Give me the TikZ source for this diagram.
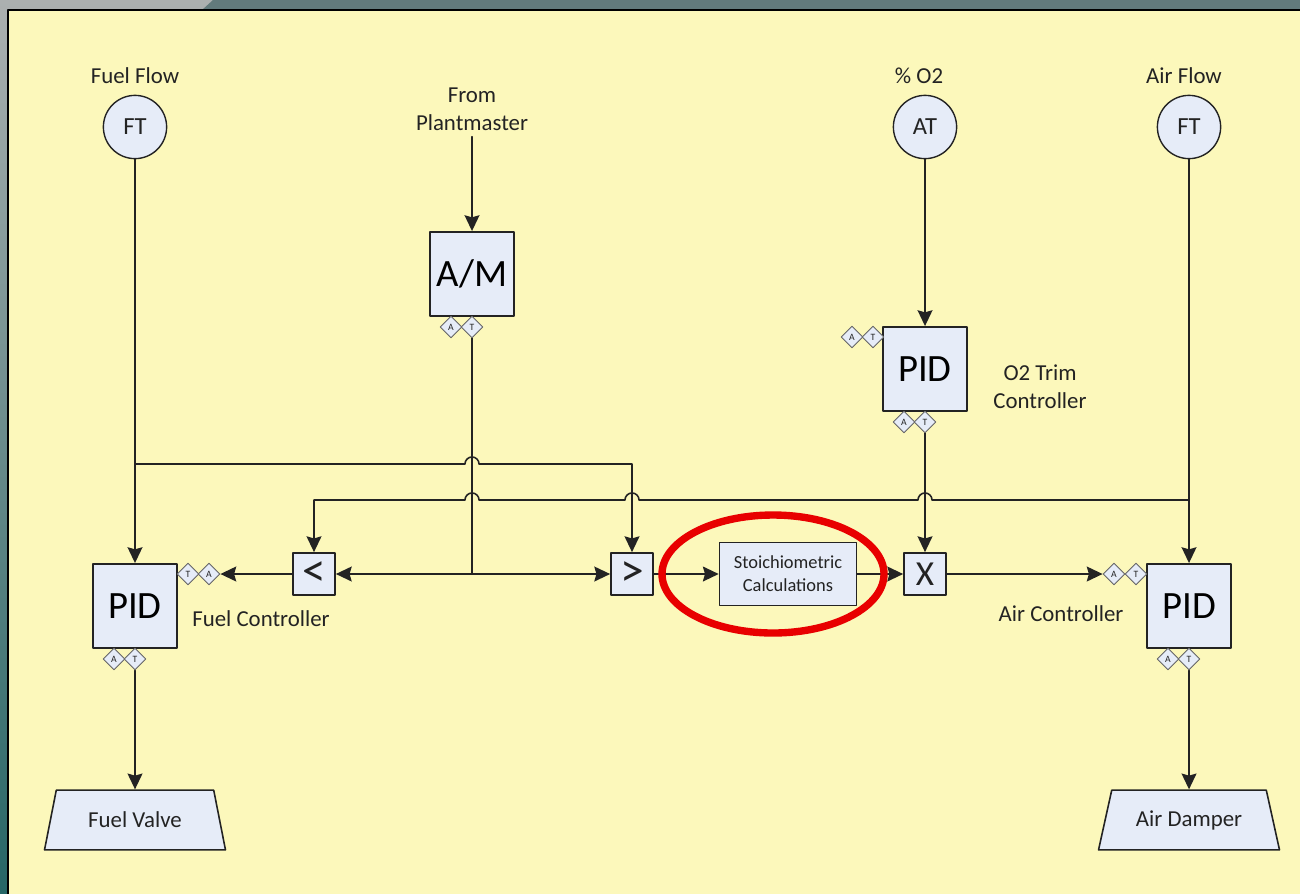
\documentclass[tikz,border=0pt]{standalone}
\usepackage{fontspec}
\setmainfont{Carlito}
\usetikzlibrary{shapes.geometric,arrows.meta}
\definecolor{panel}{RGB}{252,248,187}
\definecolor{boxfill}{RGB}{230,236,248}
\definecolor{ink}{RGB}{35,35,35}
\definecolor{slate}{RGB}{98,122,124}
\definecolor{hilite}{RGB}{232,0,0}

\begin{document}
\begin{tikzpicture}[x=0.02cm,y=-0.02cm,line cap=round,line join=round,
  wire/.style={line width=0.9pt,draw=ink},
  sig/.style={wire,-{Stealth[length=9pt,width=8.5pt,inset=1.2pt]}},
  lbl/.style={text=ink,align=center,font=\fontsize{13}{16}\selectfont},
  sensor/.style={circle,draw=ink,line width=0.8pt,fill=boxfill,minimum size=36pt,inner sep=0pt,text=ink,font=\fontsize{14}{14}\selectfont},
  ctrl/.style={draw=ink,line width=0.9pt,fill=boxfill,minimum size=48pt,inner sep=0pt,text=black,font=\fontsize{22}{22}\selectfont},
  sel/.style={draw=ink,line width=0.9pt,fill=boxfill,minimum size=24pt,inner sep=0pt,text=ink,font=\fontsize{20}{20}\selectfont},
  calcbox/.style={draw=ink,line width=0.9pt,fill=boxfill,minimum width=78pt,minimum height=36pt,inner sep=0pt,align=center,text=ink,font=\fontsize{10.5}{13}\selectfont},
  tag/.style={diamond,draw=ink!70,line width=0.5pt,fill=boxfill,minimum size=12.5pt,inner sep=0pt,text=ink,font=\fontsize{5.5}{5.5}\selectfont},
  valve/.style={trapezium,trapezium angle=67,trapezium stretches body,draw=ink,line width=0.9pt,fill=boxfill,minimum width=103pt,minimum height=34pt,text=ink,font=\fontsize{13}{13}\selectfont}]

\useasboundingbox (0,0) rectangle (1300,893);

% slide backdrop
\shade[top color={rgb,255:red,172;green,176;blue,176},bottom color={rgb,255:red,38;green,102;blue,102}] (0,0) rectangle (1300,893);
\fill[slate] (213,0) -- (1300,0) -- (1300,10) -- (202,10) -- cycle;
\draw[line width=1pt,fill=panel] (8,10) rectangle (1320,910);

% transmitters
\node[lbl] (fuelflow) at (135,76) {Fuel Flow};
\node[sensor] (fft) at (135,127) {FT};
\node[lbl] (o2lbl) at (919,76) {\% O2};
\node[sensor] (at) at (925,127) {AT};
\node[lbl] (airflow) at (1184,76) {Air Flow};
\node[sensor] (aft) at (1189,127) {FT};
\node[lbl] (plant) at (472,109) {From\\Plantmaster};

% auto/manual station
\node[ctrl] (am) at (472,274) {A/M};
\node[tag] (am-a) at (451,327) {A};
\node[tag] (am-t) at (472,327) {T};

% O2 trim controller
\node[ctrl] (o2pid) at (925,369) {PID};
\node[tag] (o2-a) at (852,337) {A};
\node[tag] (o2-t) at (873,337) {T};
\node[tag] (o2-ba) at (904,422) {A};
\node[tag] (o2-bt) at (925,422) {T};
\node[lbl] (o2name) at (1040,387) {O2 Trim\\Controller};

% selectors and calculation row
\node[sel,font=\fontsize{27}{27}\selectfont] (lo) at (314,574) {<};
\node[sel,font=\fontsize{27}{27}\selectfont] (hi) at (632,574) {>};
\node[calcbox] (stoich) at (788,574) {Stoichiometric\\Calculations};
\node[sel] (mul) at (925,574) {X};

% fuel controller
\node[ctrl] (fpid) at (135,606) {PID};
\node[tag] (fpid-t) at (188,574) {T};
\node[tag] (fpid-a) at (209,574) {A};
\node[tag] (fpid-ba) at (114,659) {A};
\node[tag] (fpid-bt) at (135,659) {T};
\node[lbl] (fuelname) at (261,619) {Fuel Controller};

% air controller
\node[ctrl] (apid) at (1189,606) {PID};
\node[tag] (apid-a) at (1114,574) {A};
\node[tag] (apid-t) at (1136,574) {T};
\node[tag] (apid-ba) at (1168,659) {A};
\node[tag] (apid-bt) at (1189,659) {T};
\node[lbl] (airname) at (1061,614) {Air Controller};

% final elements
\node[valve] (fv) at (135,820) {Fuel Valve};
\node[valve] (ad) at (1189,820) {Air Damper};

% signal lines
\draw[sig] (plant) -- (am);
\draw[sig] (fft) -- (fpid);
\draw[sig] (aft) -- (apid);
\draw[sig] (at) -- (o2pid);
\draw[sig] (o2-bt) -- (mul);

\coordinate (amsplit) at (472,574);
\draw[wire] (am-t) -- (amsplit);
\draw[sig] (amsplit) -- (lo);
\draw[sig] (amsplit) -- (hi);

% fuel flow cross-feed
\coordinate (fuelsplit) at (135,464);
\draw[sig] (fuelsplit) -- ([xshift=-4pt]amsplit |- fuelsplit)
  arc[start angle=180,end angle=0,radius=4pt] -- (hi |- fuelsplit) -- (hi);

% air flow cross-feed
\coordinate (airsplit) at (1189,500);
\draw[sig] (airsplit) -- ([xshift=4pt]mul |- airsplit)
  arc[start angle=0,end angle=180,radius=4pt] -- ([xshift=4pt]hi |- airsplit)
  arc[start angle=0,end angle=180,radius=4pt] -- ([xshift=4pt]amsplit |- airsplit)
  arc[start angle=0,end angle=180,radius=4pt] -- (lo |- airsplit) -- (lo);

\draw[sig] (hi) -- (stoich);
\draw[sig] (stoich) -- (mul);
\draw[sig] (mul) -- (apid-a);
\draw[sig] (lo) -- (fpid-a);
\draw[sig] (fpid-bt) -- (fv);
\draw[sig] (apid-bt) -- (ad);

% highlight
\draw[hilite,line width=4.2pt] (773,574) ellipse [x radius=111,y radius=59];

\end{tikzpicture}
\end{document}
